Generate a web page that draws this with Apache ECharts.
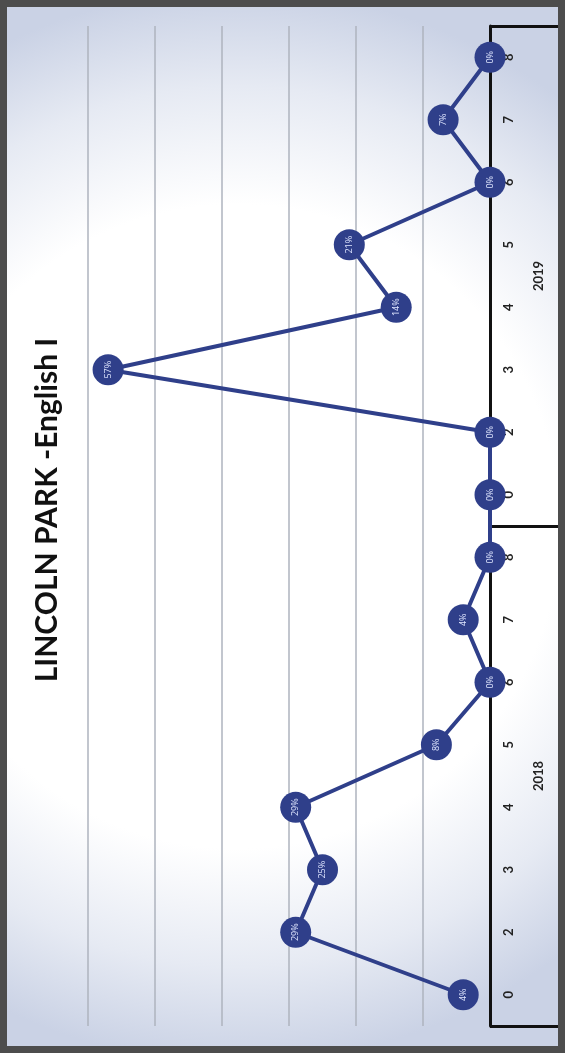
<!DOCTYPE html>
<html>
<head>
<meta charset="utf-8">
<script src="https://cdn.jsdelivr.net/npm/echarts@6/dist/echarts.min.js"></script>
<style>
html,body{margin:0;padding:0;background:#fff;}
#chart{width:565px;height:1053px;}
</style>
</head>
<body>
<div id="chart"></div>
<script>
// ---- data ----
var titleText = 'LINCOLN PARK -English I';
var years = ['2018', '2019'];
var tickLabels = ['0', '2', '3', '4', '5', '6', '7', '8'];
var values2018 = [4, 29, 25, 29, 8, 0, 4, 0];
var values2019 = [0, 0, 57, 14, 21, 0, 7, 0];
var valueMax = 60;
var valueStep = 10;

// categories built from years x tick labels
var categories = [];
years.forEach(function (y) {
  tickLabels.forEach(function (t) { categories.push(y + '|' + t); });
});
var values = values2018.concat(values2019);

var chart = echarts.init(document.getElementById('chart'), null, {renderer: 'canvas'});
var navy = '#2f3f8a';

var option = {
  animation: false,
  backgroundColor: '#ffffff',
  graphic: [
    {
      type: 'rect', z: -100, silent: true,
      shape: {x: 0, y: 0, width: 565, height: 1053},
      style: {
        fill: new echarts.graphic.RadialGradient(0.42, 0.5, 0.95, [
          {offset: 0, color: '#ffffff'},
          {offset: 0.6, color: '#ffffff'},
          {offset: 0.82, color: '#e6eaf3'},
          {offset: 1, color: '#cad2e5'}
        ])
      }
    },
    {
      type: 'rect', z: 100, silent: true,
      shape: {x: 3.5, y: 3.5, width: 558, height: 1046},
      style: {fill: 'none', stroke: '#4d4d4d', lineWidth: 7}
    },
    {
      type: 'text', z: 100, silent: true,
      x: 47, y: 510, rotation: Math.PI / 2,
      style: {
        text: titleText,
        font: 'bold 30px Lato, "Open Sans", sans-serif',
        fill: '#111111',
        align: 'center', verticalAlign: 'middle',
        textAlign: 'center', textVerticalAlign: 'middle'
      }
    }
  ],
  grid: {left: 88, right: 75, top: 26, bottom: 27, containLabel: false},
  xAxis: {
    type: 'value',
    inverse: true,
    min: 0, max: valueMax, interval: valueStep,
    axisLabel: {show: false},
    axisLine: {show: false},
    axisTick: {show: false},
    splitLine: {show: true, lineStyle: {color: '#aeb3be', width: 1.5}}
  },
  yAxis: [
    {
      type: 'category',
      position: 'right',
      data: categories,
      boundaryGap: true,
      axisLine: {show: true, lineStyle: {color: '#111111', width: 3}},
      axisTick: {show: false},
      axisLabel: {
        rotate: 90,
        margin: 12,
        color: '#222222',
        fontSize: 13,
        fontWeight: 'bold',
        fontFamily: 'Lato, "Open Sans", sans-serif',
        formatter: function (v) { return v.split('|')[1]; }
      },
      splitLine: {show: false}
    },
    {
      type: 'category',
      position: 'right',
      gridIndex: 0,
      data: years,
      boundaryGap: true,
      axisLine: {show: false},
      axisTick: {show: true, length: 68, lineStyle: {color: '#111111', width: 3}},
      axisLabel: {
        rotate: 90,
        margin: 42,
        color: '#222222',
        fontSize: 13,
        fontWeight: 'bold',
        fontFamily: 'Lato, "Open Sans", sans-serif'
      },
      splitLine: {show: false}
    }
  ],
  series: [
    {
      type: 'line',
      yAxisIndex: 0,
      data: values,
      symbol: 'circle',
      symbolSize: 31,
      lineStyle: {color: navy, width: 4},
      itemStyle: {color: navy},
      z: 5,
      label: {
        show: true,
        position: 'inside',
        rotate: 90,
        color: '#dfe6ff',
        fontSize: 9,
        fontFamily: '"Open Sans", sans-serif',
        formatter: function (p) { return p.value + '%'; }
      }
    }
  ]
};
chart.setOption(option);
</script>
</body>
</html>
